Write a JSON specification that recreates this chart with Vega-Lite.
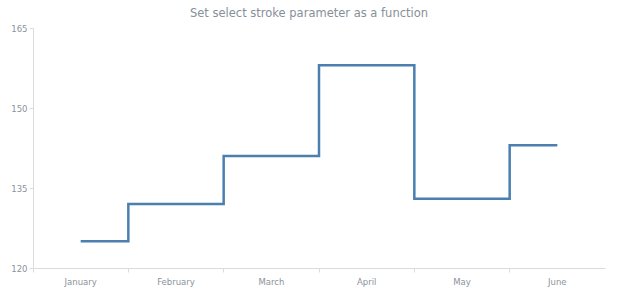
{
  "$schema": "https://vega.github.io/schema/vega-lite/v6.json",
  "width": 572,
  "height": 240,
  "autosize": {"type": "none"},
  "padding": {"left": 33, "top": 28, "right": 15, "bottom": 32},
  "background": "#ffffff",
  "title": {
    "text": "Set select stroke parameter as a function",
    "font": "DejaVu Sans",
    "fontSize": 11.5,
    "fontWeight": "normal",
    "color": "#868f98",
    "anchor": "middle",
    "offset": 5,
    "dx": -10
  },
  "data": {
    "values": [
      {"month": "January", "value": 125},
      {"month": "February", "value": 132},
      {"month": "March", "value": 141},
      {"month": "April", "value": 158},
      {"month": "May", "value": 133},
      {"month": "June", "value": 143}
    ]
  },
  "mark": {"type": "line", "interpolate": "step", "color": "#4a7fb0", "strokeWidth": 2.5},
  "encoding": {
    "x": {
      "field": "month",
      "type": "nominal",
      "sort": null,
      "scale": {"type": "band", "paddingInner": 0, "paddingOuter": 0},
      "axis": {
        "title": null,
        "labelAngle": 0,
        "bandPosition": 0,
        "labelFont": "DejaVu Sans",
        "labelFontSize": 8.5,
        "labelColor": "#8a939b",
        "domainColor": "#d9dcdf",
        "tickColor": "#d9dcdf",
        "tickSize": 4,
        "labelPadding": 5,
        "grid": false
      }
    },
    "y": {
      "field": "value",
      "type": "quantitative",
      "scale": {"domain": [120, 165], "nice": false, "zero": false},
      "axis": {
        "title": null,
        "values": [120, 135, 150, 165],
        "labelFont": "DejaVu Sans",
        "labelFontSize": 8.5,
        "labelColor": "#8a939b",
        "domainColor": "#d9dcdf",
        "tickColor": "#d9dcdf",
        "tickSize": 4,
        "labelPadding": 2,
        "grid": false
      }
    }
  },
  "config": {"view": {"stroke": null}}
}
